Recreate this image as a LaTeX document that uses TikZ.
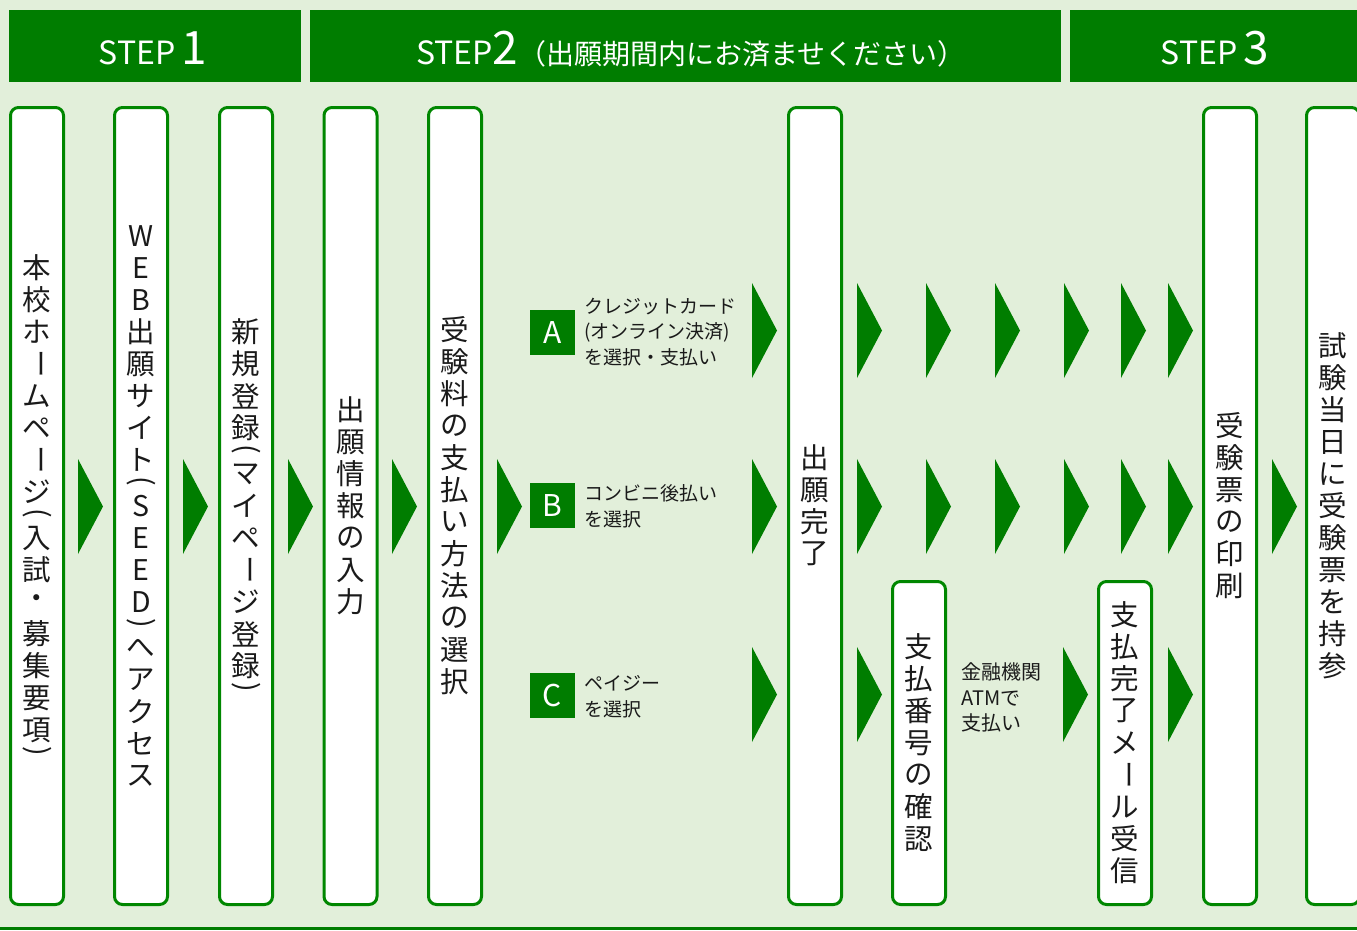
\documentclass[tikz,border=0pt]{standalone}
\usepackage{fontspec}
\usepackage{graphicx}
\setmainfont{Noto Sans CJK JP}
\definecolor{gr}{RGB}{0,125,0}
\definecolor{bd}{RGB}{0,135,0}
\definecolor{bgc}{RGB}{226,239,218}
\definecolor{tx}{RGB}{26,26,26}
\makeatletter
\newcommand\vcell[1]{\hbox to 34pt{\hss\vbox to 32pt{\vss\hbox{#1}\vss}\hss}}
\newcommand\vhalf[1]{\hbox to 34pt{\hss\vbox to 14pt{\vss\hbox{#1}\vss}\hss}}
\def\vt@lp{(}\def\vt@rp{)}\def\vt@bar{ー}
\def\vt@end{\vt@end}
\def\vt@one#1{\def\vt@c{#1}%
  \ifx\vt@c\vt@lp\vhalf{\rotatebox[origin=c]{-90}{(}}%
  \else\ifx\vt@c\vt@rp\vhalf{\rotatebox[origin=c]{-90}{)}}%
  \else\ifx\vt@c\vt@bar\vcell{\rotatebox[origin=c]{-90}{ー}}%
  \else\vcell{#1}\fi\fi\fi}
\def\vt@loop#1{\ifx#1\vt@end\else\vt@one{#1}\expandafter\vt@loop\fi}
\newcommand\vtext[1]{\vbox{\offinterlineskip\vt@loop#1\vt@end}}
\makeatother
\newcommand\tri[2]{\fill[tri] (#1,#2) -- ++(25,47.5) -- ++(-25,47.5) -- cycle;}
\begin{document}
\begin{tikzpicture}[x=1pt,y=-1pt,
  box/.style={draw=bd, line width=3pt, fill=white, rounded corners=8pt, inner sep=0pt,
    minimum width=53pt, text=tx, font=\fontsize{28.5}{32}\selectfont},
  tall/.style={minimum height=797pt},
  short/.style={minimum height=323pt},
  hdr/.style={fill=gr, inner sep=0pt, minimum height=72pt},
  htxt/.style={anchor=base, text=white, inner sep=0pt},
  tri/.style={fill=gr},
  lab/.style={fill=gr, minimum size=45pt, inner sep=0pt, text=white, font=\fontsize{30}{30}\selectfont},
  note/.style={anchor=west, align=left, text=tx, inner sep=0pt, font=\fontsize{19}{25.5}\selectfont}]
\useasboundingbox (0,0) rectangle (1357,930);
\clip (0,0) rectangle (1357,930);
\fill[bgc] (0,0) rectangle (1357,930);
% headers
\node[hdr, minimum width=292pt] (h1) at (155,46) {};
\node[hdr, minimum width=751pt] (h2) at (685.5,46) {};
\node[hdr, minimum width=292pt] (h3) at (1216,46) {};
\node[htxt] (t1) at (153,64) {\fontsize{32}{32}\selectfont STEP\hspace{6pt}\fontsize{46}{46}\selectfont 1};
\node[htxt, anchor=base west] (t2) at (416,64) {\fontsize{32}{32}\selectfont STEP\fontsize{46}{46}\selectfont 2\fontsize{28}{28}\selectfont（出願期間内にお済ませください）};
\node[htxt] (t3) at (1215,64) {\fontsize{32}{32}\selectfont STEP\hspace{6pt}\fontsize{46}{46}\selectfont 3};
% boxes
\node[box,tall] (b1) at (37,506) {\vtext{本校ホームページ(入試・募集要項)}};
\node[box,tall] (b2) at (141,506) {\vtext{WEB出願サイト(SEED)へアクセス}};
\node[box,tall] (b3) at (246,506) {\vtext{新規登録(マイページ登録)}};
\node[box,tall] (b4) at (350.5,506) {\vtext{出願情報の入力}};
\node[box,tall] (b5) at (455,506) {\vtext{受験料の支払い方法の選択}};
\node[box,tall] (b6) at (815,506) {\vtext{出願完了}};
\node[box,short] (b7) at (919,743) {\vtext{支払番号の確認}};
\node[box,short] (b8) at (1125,743) {\vtext{支払完了メール受信}};
\node[box,tall] (b9) at (1230,506) {\vtext{受験票の印刷}};
\node[box,tall] (b10) at (1333,506) {\vtext{試験当日に受験票を持参}};
% labels
\node[lab] (la) at (552.5,332.5) {A};
\node[note] (na) at (584,332) {クレジットカード\\(オンライン決済)\\を選択・支払い};
\node[lab] (lb) at (552.5,505) {B};
\node[note] (nb) at (584,506.5) {コンビニ後払い\\を選択};
\node[lab] (lc) at (552.5,695) {C};
\node[note] (nc) at (584,696.5) {ペイジー\\を選択};
\node[note, font=\fontsize{20}{25.5}\selectfont] (nd) at (961,697.5) {金融機関\\ATMで\\支払い};
% triangles main row
\tri{78}{459}\tri{183}{459}\tri{288}{459}\tri{392}{459}\tri{497}{459}\tri{1272}{459}
% row A
\tri{752}{283}\tri{857}{283}\tri{926}{283}\tri{995}{283}\tri{1064}{283}\tri{1121}{283}\tri{1168}{283}
% row B
\tri{752}{459}\tri{857}{459}\tri{926}{459}\tri{995}{459}\tri{1064}{459}\tri{1121}{459}\tri{1168}{459}
% row C
\tri{752}{647}\tri{857}{647}\tri{1063}{647}\tri{1168}{647}
% bottom line
\fill[gr] (0,927) rectangle (1357,930);
\end{tikzpicture}
\end{document}
